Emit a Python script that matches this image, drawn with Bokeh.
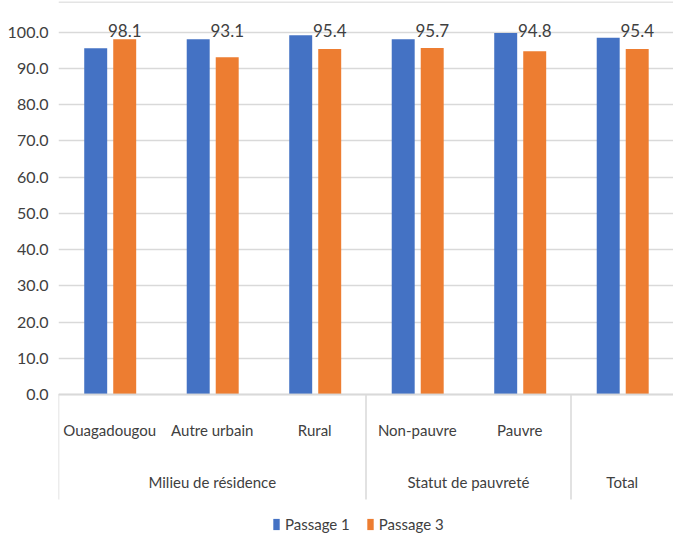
from bokeh.plotting import figure
from bokeh.models import (FactorRange, Legend, LegendItem, ColumnDataSource,
                          NumeralTickFormatter, CategoricalAxis, Span)
from bokeh.transform import dodge
from bokeh.embed import file_html
from bokeh.resources import INLINE
from bokeh.core.properties import value

groups = ["Milieu de résidence", "Milieu de résidence", "Milieu de résidence",
          "Statut de pauvreté", "Statut de pauvreté", "Total"]
categories = ["Ouagadougou", "Autre urbain", "Rural", "Non-pauvre", "Pauvre", ""]
passage1 = [95.6, 98.1, 99.2, 98.1, 99.8, 98.5]
passage3 = [98.1, 93.1, 95.4, 95.7, 94.8, 95.4]
series_names = ["Passage 1", "Passage 3"]
colors = ["#4472C4", "#ED7D31"]

FONT = "Lato"
TXT = "#404040"
GRID = "#D9D9D9"

factors = list(zip(groups, categories))
src = ColumnDataSource(dict(x=factors, p1=passage1, p3=passage3,
                            lab=[f"{v:.1f}" for v in passage3]))
# first factor of each group: separators are drawn at their left edge
starts = [f for i, f in enumerate(factors) if i == 0 or factors[i - 1][0] != f[0]]
sep = ColumnDataSource(dict(x=starts))

p = figure(x_range=FactorRange(*factors, group_padding=0, factor_padding=0, range_padding=0),
           y_range=(-38.4, 108.8), width=673, height=533, output_backend="svg",
           toolbar_location=None, min_border_left=58, min_border_right=0,
           min_border_top=0, min_border_bottom=0)

r1 = p.vbar(x=dodge("x", -0.137, range=p.x_range), top="p1", width=0.224, source=src,
            fill_color=colors[0], line_color=None)
r3 = p.vbar(x=dodge("x", 0.146, range=p.x_range), top="p3", width=0.224, source=src,
            fill_color=colors[1], line_color=None)
p.text(x=dodge("x", 0.146, range=p.x_range), y=100.6, text="lab", source=src,
       text_align="center", text_baseline="middle", text_font=value(FONT),
       text_font_size="17px", text_color=TXT)
p.segment(x0=dodge("x", -0.5, range=p.x_range), x1=dodge("x", -0.5, range=p.x_range),
          y0=0, y1=-29, source=sep, line_color=GRID, line_width=1.5)
p.add_layout(Span(location=108.3, dimension="width", line_color="#E4E4E4", line_width=1.5))

p.outline_line_color = None
p.xgrid.grid_line_color = None
p.ygrid.grid_line_color = GRID
p.ygrid.grid_line_width = 1.5
p.yaxis.ticker = list(range(0, 101, 10))
p.yaxis.formatter = NumeralTickFormatter(format="0.0")
p.yaxis.axis_line_color = None
p.yaxis.major_tick_line_color = None
p.yaxis.major_tick_out = 0
p.yaxis.minor_tick_line_color = None
p.yaxis.minor_tick_out = 0
p.yaxis.major_label_text_font = FONT
p.yaxis.major_label_text_font_size = "16px"
p.yaxis.major_label_text_color = TXT
p.yaxis.major_label_standoff = 10


def style_x(ax, standoff, show_major, show_group):
    ax.fixed_location = 0
    ax.axis_line_color = GRID
    ax.axis_line_width = 1.5
    ax.major_tick_line_color = None
    ax.major_tick_out = 0
    ax.minor_tick_line_color = None
    ax.minor_tick_out = 0
    ax.major_label_text_font = FONT
    ax.major_label_text_font_size = "15px"
    ax.major_label_text_color = TXT if show_major else None
    ax.major_label_standoff = standoff
    ax.group_text_font = FONT
    ax.group_text_font_size = "15px"
    ax.group_text_color = TXT if show_group else None
    ax.group_text_font_style = "normal"
    ax.separator_line_color = None


style_x(p.xaxis[0], 27, True, False)
gax = CategoricalAxis()
p.add_layout(gax, "below")
style_x(gax, 79, False, True)

legend = Legend(items=[LegendItem(label=series_names[0], renderers=[r1]),
                       LegendItem(label=series_names[1], renderers=[r3])],
                orientation="horizontal", location=(214, 0),
                label_text_font=FONT, label_text_font_size="15px", label_text_color=TXT,
                glyph_width=8, glyph_height=14, spacing=16, border_line_color=None,
                background_fill_alpha=0, padding=0, margin=0, label_standoff=5)
p.add_layout(legend, "center")

open("out.html", "w").write(file_html(p, INLINE))
